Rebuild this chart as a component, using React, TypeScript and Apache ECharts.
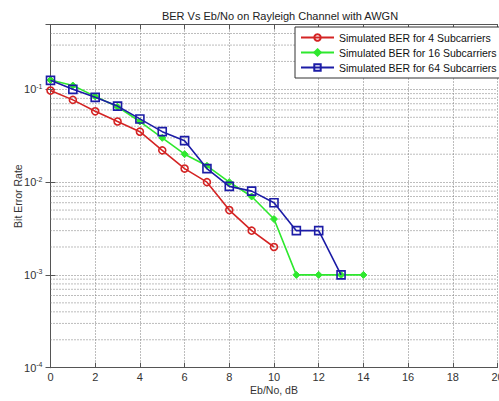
import React, { useEffect, useRef } from "react";
import * as echarts from "echarts";

const titleText = "BER Vs Eb/No on Rayleigh Channel with AWGN";
const xName = "Eb/No, dB";
const yName = "Bit Error Rate";
const seriesNames = [
  "Simulated BER for 4 Subcarriers",
  "Simulated BER for 16 Subcarriers",
  "Simulated BER for 64 Subcarriers",
];

const ebno4 = [0, 1, 2, 3, 4, 5, 6, 7, 8, 9, 10];
const ber4 = [0.097, 0.077, 0.058, 0.045, 0.035, 0.022, 0.014, 0.01, 0.005, 0.003, 0.002];

const ebno16 = [0, 1, 2, 3, 4, 5, 6, 7, 8, 9, 10, 11, 12, 13, 14];
const ber16 = [0.126, 0.11, 0.084, 0.065, 0.045, 0.03, 0.02, 0.015, 0.01, 0.007, 0.004, 0.001, 0.001, 0.001, 0.001];

const ebno64 = [0, 1, 2, 3, 4, 5, 6, 7, 8, 9, 10, 11, 12, 13];
const ber64 = [0.125, 0.1, 0.082, 0.066, 0.048, 0.035, 0.028, 0.014, 0.009, 0.008, 0.006, 0.003, 0.003, 0.001];

const xMin = 0;
const xMax = 20;
const xInterval = 2;
const yMin = 1e-4;
const yMax = 0.5;
const decades = [1e-4, 1e-3, 1e-2, 1e-1];
const minorMultipliers = [2, 3, 4, 5, 6, 7, 8, 9];

const colors = ["#d42424", "#2ee82e", "#1c1ca6"];

export default function App() {
  const ref = useRef<HTMLDivElement>(null);
  useEffect(() => {
    if (!ref.current) return;
    const chart = echarts.init(ref.current, null, { renderer: "svg" });
    const font = "Liberation Sans";
    const minorVals: number[] = [];
    decades.forEach((d) =>
      minorMultipliers.forEach((m) => {
        const v = d * m;
        if (v < yMax - 1e-9) minorVals.push(v);
      })
    );
    const grid = { type: [1, 2] as any, color: "#7a7a7a", width: 1 };
    const axisLine = { lineStyle: { color: "#555", width: 1 } };
    const tick = { inside: true, length: 5, lineStyle: { color: "#555" } };
    const mk = (i: number, xs: number[], ys: number[], symbol: string, size: number, filled: boolean) => ({
      name: seriesNames[i],
      type: "line",
      data: xs.map((x, k) => [x, ys[k]]),
      symbol,
      symbolSize: size,
      showAllSymbol: true,
      lineStyle: { color: colors[i], width: 1.6 },
      itemStyle: filled
        ? { color: colors[i], borderColor: colors[i], borderWidth: 1 }
        : { color: "rgba(0,0,0,0)", borderColor: colors[i], borderWidth: 1.6 },
      emphasis: { disabled: true },
      z: 3 + i,
    });
    const minorSeries = minorVals.map((v) => ({
      type: "line",
      data: [
        [xMin, v],
        [xMax, v],
      ],
      symbol: "none",
      silent: true,
      lineStyle: grid,
      emphasis: { disabled: true },
      z: 1,
    }));
    chart.setOption({
      animation: false,
      textStyle: { fontFamily: font },
      title: {
        text: titleText,
        left: 275,
        top: 5,
        textAlign: "center",
        textStyle: { fontSize: 11, fontWeight: "normal", color: "#222", fontFamily: font },
      },
      legend: {
        data: seriesNames,
        orient: "vertical",
        left: 295,
        top: 27,
        itemWidth: 33,
        itemHeight: 8,
        itemGap: 4,
        padding: [5, 6, 5, 5],
        backgroundColor: "#fff",
        borderColor: "#333",
        borderWidth: 1,
        borderRadius: 0,
        textStyle: { fontSize: 10.5, color: "#111", fontFamily: font },
        z: 10,
      },
      grid: {
        left: 50.5,
        right: 1.5,
        top: 24.5,
        bottom: 33.3,
        containLabel: false,
        outerBoundsMode: "none",
      },
      xAxis: [
        {
          type: "value",
          min: xMin,
          max: xMax,
          interval: xInterval,
          name: xName,
          nameLocation: "middle",
          nameGap: 17,
          nameMoveOverlap: false,
          nameTextStyle: { fontSize: 10.5, color: "#333", fontFamily: font },
          axisLine,
          axisTick: tick,
          axisLabel: { fontSize: 11, color: "#333", margin: 4, fontFamily: font, showMaxLabel: true },
          splitLine: { show: true, lineStyle: grid },
        },
        {
          type: "value",
          position: "top",
          min: xMin,
          max: xMax,
          interval: xInterval,
          axisLine,
          axisTick: tick,
          axisLabel: { show: false },
          splitLine: { show: false },
        },
      ],
      yAxis: [
        {
          type: "log",
          logBase: 10,
          min: yMin,
          max: yMax,
          name: yName,
          nameLocation: "middle",
          nameGap: 27,
          nameMoveOverlap: false,
          nameTextStyle: { fontSize: 10.5, color: "#333", fontFamily: font },
          axisLine,
          axisTick: tick,
          axisLabel: {
            fontSize: 11,
            color: "#333",
            margin: 8,
            fontFamily: font,
            showMaxLabel: false,
            formatter: (v: number) => {
              const e = Math.round(Math.log10(v));
              return "10{sup|" + e + "}";
            },
            rich: { sup: { fontSize: 7, verticalAlign: "top", padding: [0, 0, 6, 0], color: "#333" } },
          },
          splitLine: { show: true, lineStyle: grid },
        },
        {
          type: "log",
          logBase: 10,
          min: yMin,
          max: yMax,
          position: "right",
          axisLine,
          axisTick: tick,
          axisLabel: { show: false },
          splitLine: { show: false },
        },
      ],
      series: [
        ...minorSeries,
        mk(0, ebno4, ber4, "circle", 7, false),
        mk(1, ebno16, ber16, "diamond", 7, true),
        mk(2, ebno64, ber64, "rect", 8, false),
      ],
    });
    return () => chart.dispose();
  }, []);
  return (
    <div
      ref={ref}
      style={{ position: "absolute", left: 0, top: 0, width: 499, height: 401, background: "#fff" }}
    />
  );
}
